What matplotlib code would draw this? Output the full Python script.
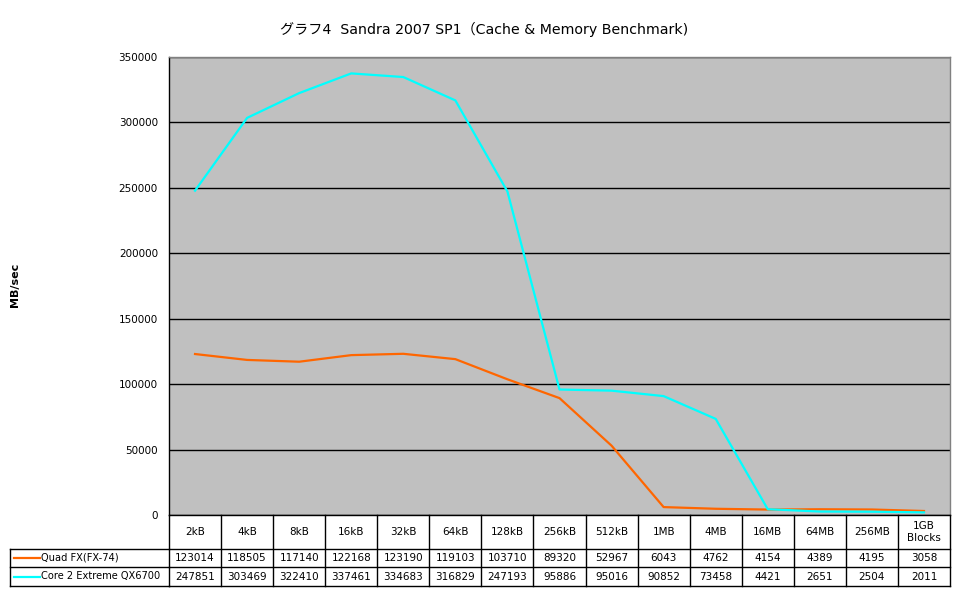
import matplotlib
matplotlib.use("Agg")
import matplotlib.pyplot as plt
import matplotlib.transforms as mtransforms

plt.rcParams['font.family'] = ['DejaVu Sans']

categories = ["2kB", "4kB", "8kB", "16kB", "32kB", "64kB", "128kB", "256kB",
              "512kB", "1MB", "4MB", "16MB", "64MB", "256MB", "1GB\nBlocks"]
quad_fx = [123014, 118505, 117140, 122168, 123190, 119103, 103710, 89320,
           52967, 6043, 4762, 4154, 4389, 4195, 3058]
core2 = [247851, 303469, 322410, 337461, 334683, 316829, 247193, 95886,
         95016, 90852, 73458, 4421, 2651, 2504, 2011]
series_names = ["Quad FX(FX-74)", "Core 2 Extreme QX6700"]
series_colors = ["#FF6600", "#00FFFF"]
yticks = [0, 50000, 100000, 150000, 200000, 250000, 300000, 350000]
title = "グラフ4  Sandra 2007 SP1（Cache & Memory Benchmark)"

W, H = 970, 604
fig = plt.figure(figsize=(W / 100, H / 100), dpi=100)
L, R, T, B = 169, 950, 57, 515
ax = fig.add_axes([L / W, 1 - B / H, (R - L) / W, (B - T) / H])
ax.set_facecolor("#C0C0C0")

n = len(categories)
xs = list(range(n))
for vals, c in zip([quad_fx, core2], series_colors):
    ax.plot(xs, vals, color=c, lw=1.6, solid_joinstyle="round", zorder=3)

ax.set_xlim(-0.5, n - 0.5)
ax.set_ylim(0, 350000)
ax.set_yticks(yticks)
ax.set_yticklabels([str(v) for v in yticks], fontsize=7.5)
ax.tick_params(axis="y", length=0, pad=8)
ax.set_xticks([])
ax.yaxis.grid(True, color="black", lw=1.0)
ax.set_axisbelow(True)
for s in ["top", "right"]:
    ax.spines[s].set_color("#808080")
    ax.spines[s].set_linewidth(1.0)
ax.spines["left"].set_color("black")
ax.spines["bottom"].set_color("black")
ax.spines["left"].set_linewidth(1.0)
ax.spines["bottom"].set_linewidth(1.0)

# Title & y label
fig.text(484 / W, 1 - 29 / H, title, ha="center", va="center",
         fontsize=10.2, family=["DejaVu Sans", "Noto Sans CJK JP"])
fig.text(15 / W, 1 - 285 / H, "MB/sec", rotation=90, ha="center", va="center",
         fontsize=8, fontweight="bold")

# Data table
def fy(py):
    return 1 - py / H

tr = mtransforms.blended_transform_factory(ax.transData, fig.transFigure)
trf = fig.transFigure
y_hdr_top, y_hdr_bot, y_r1_bot, y_r2_bot = 515, 549, 567, 586
lk = dict(color="black", lw=1.0, clip_on=False, zorder=5)

for i in range(n + 1):
    xb = i - 0.5
    fig.add_artist(plt.Line2D([xb, xb], [fy(y_hdr_top), fy(y_r2_bot)], transform=tr, **lk))
for py in [y_hdr_bot, y_r1_bot, y_r2_bot]:
    fig.add_artist(plt.Line2D([-0.5, n - 0.5], [fy(py), fy(py)], transform=tr, **lk))
lx0 = 10 / W
lx1 = L / W
for py in [y_hdr_bot, y_r1_bot, y_r2_bot]:
    fig.add_artist(plt.Line2D([lx0, lx1], [fy(py), fy(py)], transform=trf, **lk))
fig.add_artist(plt.Line2D([lx0, lx0], [fy(y_hdr_bot), fy(y_r2_bot)], transform=trf, **lk))

for i, cat in enumerate(categories):
    fig.text(i, fy((y_hdr_top + y_hdr_bot) / 2), cat, transform=tr, ha="center",
             va="center", fontsize=7.5, linespacing=1.25)

rows = [(quad_fx, y_hdr_bot, y_r1_bot), (core2, y_r1_bot, y_r2_bot)]
for (vals, top, bot), name, c in zip(rows, series_names, series_colors):
    yc = fy((top + bot) / 2)
    for i, v in enumerate(vals):
        fig.text(i, yc, str(v), transform=tr, ha="center", va="center", fontsize=7.5)
    fig.add_artist(plt.Line2D([14 / W, 40 / W], [yc, yc], transform=trf,
                              color=c, lw=1.6, clip_on=False, zorder=5))
    fig.text(41 / W, yc, name, ha="left", va="center", fontsize=7.1)

fig.savefig("out.png", dpi=100, facecolor="white")
